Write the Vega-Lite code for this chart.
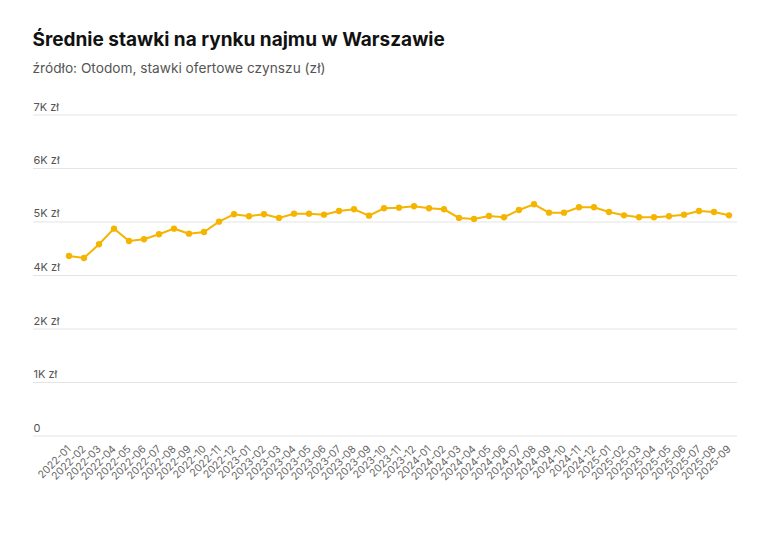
{
  "$schema": "https://vega.github.io/schema/vega-lite/v6.json",
  "width": 704,
  "height": 321,
  "padding": {"left": 32, "top": 31, "right": 48, "bottom": 10},
  "background": "white",
  "title": {
    "text": "Średnie stawki na rynku najmu w Warszawie",
    "subtitle": "źródło: Otodom, stawki ofertowe czynszu (zł)",
    "anchor": "start",
    "font": "Inter",
    "fontSize": 19,
    "fontWeight": "bold",
    "color": "#111111",
    "subtitleFont": "Inter",
    "subtitleFontSize": 13.7,
    "subtitleColor": "#555555",
    "subtitlePadding": 12,
    "offset": 25
  },
  "config": {
    "view": {"stroke": null},
    "font": "Inter"
  },
  "datasets": {
    "rents": [
      {"m": "2022-01", "v": 3926}, {"m": "2022-02", "v": 3882}, {"m": "2022-03", "v": 4181},
      {"m": "2022-04", "v": 4521}, {"m": "2022-05", "v": 4253}, {"m": "2022-06", "v": 4290},
      {"m": "2022-07", "v": 4399}, {"m": "2022-08", "v": 4521}, {"m": "2022-09", "v": 4412},
      {"m": "2022-10", "v": 4449}, {"m": "2022-11", "v": 4674}, {"m": "2022-12", "v": 4835},
      {"m": "2023-01", "v": 4792}, {"m": "2023-02", "v": 4835}, {"m": "2023-03", "v": 4755},
      {"m": "2023-04", "v": 4848}, {"m": "2023-05", "v": 4848}, {"m": "2023-06", "v": 4826},
      {"m": "2023-07", "v": 4907}, {"m": "2023-08", "v": 4944}, {"m": "2023-09", "v": 4805},
      {"m": "2023-10", "v": 4966}, {"m": "2023-11", "v": 4979}, {"m": "2023-12", "v": 5010},
      {"m": "2024-01", "v": 4966}, {"m": "2024-02", "v": 4944}, {"m": "2024-03", "v": 4755},
      {"m": "2024-04", "v": 4733}, {"m": "2024-05", "v": 4798}, {"m": "2024-06", "v": 4770},
      {"m": "2024-07", "v": 4929}, {"m": "2024-08", "v": 5053}, {"m": "2024-09", "v": 4870},
      {"m": "2024-10", "v": 4870}, {"m": "2024-11", "v": 4988}, {"m": "2024-12", "v": 4988},
      {"m": "2025-01", "v": 4885}, {"m": "2025-02", "v": 4813}, {"m": "2025-03", "v": 4770},
      {"m": "2025-04", "v": 4770}, {"m": "2025-05", "v": 4792}, {"m": "2025-06", "v": 4826},
      {"m": "2025-07", "v": 4907}, {"m": "2025-08", "v": 4885}, {"m": "2025-09", "v": 4813}
    ],
    "grid": [
      {"g": 0}, {"g": 1166.667}, {"g": 2333.333}, {"g": 3500},
      {"g": 4666.667}, {"g": 5833.333}, {"g": 7000}
    ]
  },
  "layer": [
    {
      "data": {"name": "grid"},
      "mark": {"type": "rule", "color": "#e4e4e4", "strokeWidth": 1},
      "encoding": {
        "y": {"field": "g", "type": "quantitative", "scale": {"domain": [0, 7000], "nice": false}}
      }
    },
    {
      "data": {"name": "rents"},
      "encoding": {
        "x": {
          "field": "m",
          "type": "ordinal",
          "scale": {"type": "point", "range": [36, 696], "padding": 0},
          "axis": {
            "title": null,
            "domain": false,
            "ticks": false,
            "grid": false,
            "labelAngle": -45,
            "labelAlign": "right",
            "labelBaseline": "middle",
            "labelFontSize": 10.5,
            "labelColor": "#666666",
            "labelPadding": 11
          }
        },
        "y": {
          "field": "v",
          "type": "quantitative",
          "scale": {"domain": [0, 7000], "nice": false, "zero": true},
          "axis": {
            "title": null,
            "domain": false,
            "ticks": false,
            "grid": false,
            "values": [0, 1166.667, 2333.333, 3500, 4666.667, 5833.333, 7000],
            "labelExpr": "datum.value == 0 ? '0' : format(datum.value / 1000, '.0f') + 'K zł'",
            "labelAlign": "left",
            "labelBaseline": "bottom",
            "labelPadding": 0,
            "labelOffset": -3,
            "labelFontSize": 11,
            "labelColor": "#555555"
          }
        }
      },
      "layer": [
        {"mark": {"type": "line", "color": "#F5B400", "strokeWidth": 2}},
        {"mark": {"type": "point", "filled": true, "color": "#F5B400", "size": 40, "opacity": 1}}
      ]
    }
  ]
}
